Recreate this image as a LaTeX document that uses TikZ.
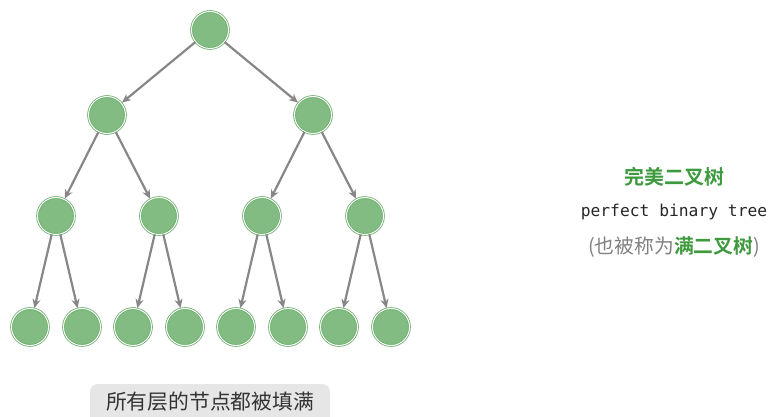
\documentclass[tikz,border=0pt]{standalone}
\usepackage{fontspec}
\newfontfamily\cjk{Noto Sans CJK SC}
\newfontfamily\cjkb{Noto Sans CJK SC Bold}
\newfontfamily\mono{DejaVu Sans Mono}
\usetikzlibrary{arrows.meta}
\definecolor{nodefill}{HTML}{82BC82}
\definecolor{nodeline}{HTML}{6CAE6C}
\definecolor{edgegray}{HTML}{878787}
\definecolor{titlegreen}{HTML}{3F9A3F}
\definecolor{boxgray}{HTML}{E6E6E6}
\tikzset{
  tn/.style={circle, minimum size=37pt, inner sep=0pt, fill=nodefill, draw=nodeline, line width=0.8pt, double=white, double distance=1pt},
  edge/.style={draw=edgegray, line width=2.2pt, -{Stealth[length=9pt,width=8pt]}, shorten >=0.5pt}
}
\begin{document}
\begin{tikzpicture}[x=1pt,y=-1pt]
\useasboundingbox (0,0) rectangle (768,417);
\clip (0,0) rectangle (768,417);
\node[tn] (r) at (210,30) {};
\node[tn] (a) at (107,115) {};
\node[tn] (b) at (313,115) {};
\node[tn] (aa) at (56,216) {};
\node[tn] (ab) at (159,216) {};
\node[tn] (ba) at (262,216) {};
\node[tn] (bb) at (365,216) {};
\node[tn] (l1) at (30,327) {};
\node[tn] (l2) at (82,327) {};
\node[tn] (l3) at (133,327) {};
\node[tn] (l4) at (185,327) {};
\node[tn] (l5) at (236,327) {};
\node[tn] (l6) at (288,327) {};
\node[tn] (l7) at (339,327) {};
\node[tn] (l8) at (391,327) {};
\foreach \p/\c in {r/a,r/b,a/aa,a/ab,b/ba,b/bb,aa/l1,aa/l2,ab/l3,ab/l4,ba/l5,ba/l6,bb/l7,bb/l8}
  \draw[edge] (\p) -- (\c);
\fill[boxgray, rounded corners=8pt] (90,384) rectangle (330,430);
\node[font=\cjk\fontsize{20.8pt}{24pt}\selectfont, text=black!80] (cap) at (210,402) {所有层的节点都被填满};
\node[font=\cjkb\fontsize{20pt}{24pt}\selectfont, text=titlegreen] (t1) at (674,177) {完美二叉树};
\node[font=\mono\fontsize{16.3pt}{19pt}\selectfont, text=black!85] (t2) at (674,212) {perfect binary tree};
\node[font=\cjk\fontsize{19.8pt}{23pt}\selectfont, text=black!50] (t3) at (674,247) {(也被称为{\cjkb\color{titlegreen}满二叉树})};
\end{tikzpicture}
\end{document}
